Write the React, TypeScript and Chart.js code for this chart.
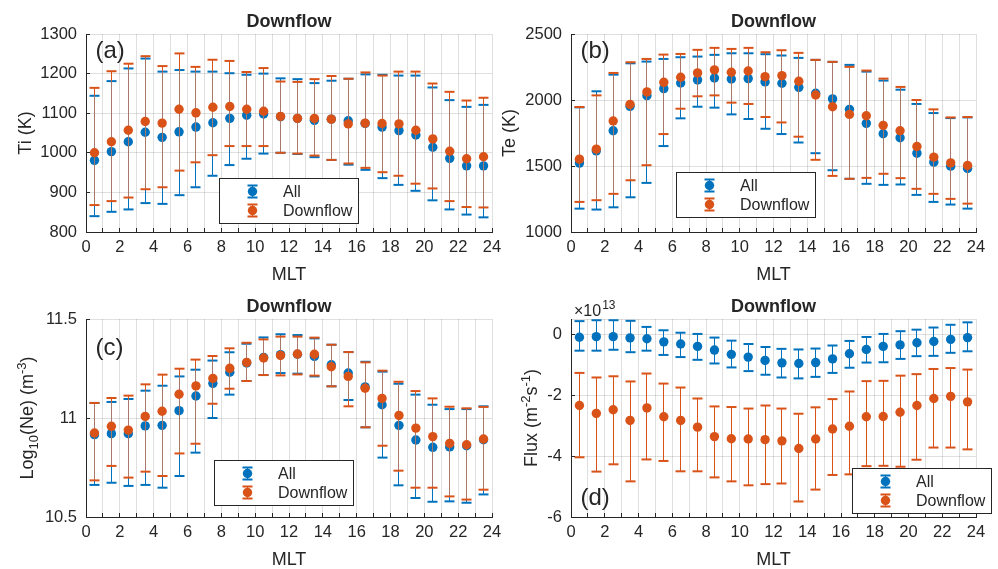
import React, { useEffect, useRef } from 'react';
import { Chart, registerables } from 'chart.js';

Chart.register(...registerables);

// ---------------- data ----------------
const mlt = [0.5, 1.5, 2.5, 3.5, 4.5, 5.5, 6.5, 7.5, 8.5, 9.5, 10.5, 11.5, 12.5, 13.5, 14.5, 15.5, 16.5, 17.5, 18.5, 19.5, 20.5, 21.5, 22.5, 23.5];

const xTickValues = [0, 1, 2, 3, 4, 5, 6, 7, 8, 9, 10, 11, 12, 13, 14, 15, 16, 17, 18, 19, 20, 21, 22, 23, 24];
const xLabelValues = [0, 2, 4, 6, 8, 10, 12, 14, 16, 18, 20, 22, 24];
const xLabelTexts = ['0', '2', '4', '6', '8', '10', '12', '14', '16', '18', '20', '22', '24'];

const seriesNames = ['All', 'Downflow'];

// (a) Ti (K)
const tiAll = [981, 1003, 1028, 1052, 1039, 1053, 1065, 1076, 1087, 1095, 1098, 1091, 1087, 1082, 1085, 1081, 1074, 1065, 1056, 1045, 1014, 986, 967, 967];
const tiAllHi = [1144, 1181, 1213, 1238, 1205, 1209, 1205, 1205, 1201, 1197, 1200, 1188, 1186, 1176, 1182, 1187, 1198, 1197, 1195, 1195, 1165, 1133, 1116, 1121];
const tiAllLo = [840, 851, 857, 873, 871, 893, 913, 942, 969, 985, 998, 1000, 997, 989, 982, 970, 957, 936, 919, 904, 880, 857, 844, 837];
const tiDown = [1000, 1028, 1057, 1079, 1075, 1110, 1101, 1115, 1117, 1110, 1105, 1092, 1087, 1087, 1085, 1073, 1075, 1074, 1073, 1057, 1035, 1004, 985, 990];
const tiDownHi = [1164, 1206, 1225, 1244, 1219, 1251, 1217, 1235, 1232, 1204, 1214, 1180, 1179, 1186, 1194, 1187, 1203, 1195, 1205, 1205, 1175, 1154, 1132, 1139];
const tiDownLo = [868, 878, 887, 908, 913, 955, 976, 994, 1017, 1017, 1017, 1000, 998, 993, 982, 973, 962, 951, 942, 922, 910, 878, 863, 862];
const tiTicks = [800, 900, 1000, 1100, 1200, 1300];
const tiTickLabels = ['800', '900', '1000', '1100', '1200', '1300'];

// (b) Te (K)
const teAll = [1522, 1615, 1767, 1952, 2033, 2086, 2129, 2152, 2167, 2159, 2162, 2137, 2127, 2096, 2051, 2008, 1929, 1823, 1744, 1714, 1597, 1529, 1499, 1481];
const teAllHi = [1944, 2066, 2192, 2278, 2291, 2311, 2324, 2329, 2342, 2354, 2354, 2347, 2337, 2319, 2304, 2289, 2266, 2215, 2147, 2078, 1970, 1901, 1863, 1868];
const teAllLo = [1177, 1170, 1187, 1263, 1372, 1651, 1861, 1949, 1942, 1891, 1856, 1782, 1742, 1678, 1597, 1468, 1403, 1365, 1357, 1360, 1281, 1228, 1208, 1177];
const teDown = [1552, 1628, 1841, 1967, 2061, 2134, 2172, 2205, 2228, 2210, 2220, 2177, 2185, 2142, 2038, 1949, 1891, 1881, 1808, 1767, 1648, 1567, 1524, 1504];
const teDownHi = [1947, 2035, 2205, 2286, 2311, 2344, 2349, 2380, 2395, 2387, 2395, 2362, 2377, 2357, 2304, 2289, 2251, 2223, 2162, 2099, 2000, 1929, 1868, 1871];
const teDownLo = [1228, 1241, 1289, 1392, 1506, 1742, 1934, 2028, 2035, 1980, 1970, 1871, 1830, 1722, 1547, 1425, 1403, 1410, 1441, 1408, 1327, 1289, 1251, 1215];
const teTicks = [1000, 1500, 2000, 2500];
const teTickLabels = ['1000', '1500', '2000', '2500'];

// (c) log10(Ne) (m^-3)
const neAll = [10.916, 10.921, 10.921, 10.96, 10.963, 11.037, 11.111, 11.175, 11.231, 11.278, 11.306, 11.32, 11.322, 11.311, 11.269, 11.227, 11.157, 11.067, 10.963, 10.889, 10.852, 10.854, 10.86, 10.89];
const neAllHi = [11.076, 11.081, 11.096, 11.138, 11.163, 11.21, 11.244, 11.29, 11.332, 11.375, 11.407, 11.423, 11.419, 11.402, 11.37, 11.333, 11.284, 11.234, 11.173, 11.118, 11.067, 11.045, 11.045, 11.059];
const neAllLo = [10.662, 10.673, 10.657, 10.662, 10.648, 10.707, 10.825, 11.0, 11.118, 11.187, 11.217, 11.227, 11.224, 11.21, 11.16, 11.091, 10.953, 10.8, 10.66, 10.596, 10.577, 10.579, 10.572, 10.614];
const neDown = [10.924, 10.958, 10.939, 11.008, 11.034, 11.12, 11.162, 11.2, 11.251, 11.281, 11.303, 11.316, 11.323, 11.322, 11.259, 11.21, 11.15, 11.099, 11.013, 10.949, 10.906, 10.872, 10.865, 10.894];
const neDownHi = [11.076, 11.101, 11.113, 11.17, 11.219, 11.249, 11.295, 11.313, 11.352, 11.38, 11.397, 11.411, 11.411, 11.406, 11.37, 11.333, 11.281, 11.239, 11.183, 11.136, 11.099, 11.057, 11.049, 11.056];
const neDownLo = [10.685, 10.758, 10.699, 10.729, 10.707, 10.821, 10.87, 11.072, 11.148, 11.187, 11.217, 11.215, 11.22, 11.214, 11.16, 11.059, 10.953, 10.86, 10.734, 10.648, 10.648, 10.604, 10.588, 10.638];
const neTicks = [10.5, 11, 11.5];
const neTickLabels = ['10.5', '11', '11.5'];

// (d) Flux (x 1e13 m^-2 s^-1)
const fluxAll = [-0.10, -0.08, -0.08, -0.12, -0.15, -0.25, -0.32, -0.40, -0.52, -0.66, -0.75, -0.86, -0.94, -0.96, -0.93, -0.81, -0.64, -0.50, -0.40, -0.35, -0.28, -0.24, -0.17, -0.11];
const fluxAllHi = [0.43, 0.46, 0.46, 0.44, 0.24, 0.13, 0.05, 0.01, -0.11, -0.21, -0.32, -0.42, -0.48, -0.50, -0.47, -0.37, -0.22, -0.09, 0.01, 0.10, 0.15, 0.22, 0.31, 0.39];
const fluxAllLo = [-0.54, -0.54, -0.51, -0.59, -0.54, -0.68, -0.75, -0.84, -0.96, -1.09, -1.21, -1.33, -1.42, -1.45, -1.40, -1.27, -1.10, -0.93, -0.92, -0.81, -0.72, -0.71, -0.61, -0.56];
const fluxDown = [-2.34, -2.60, -2.48, -2.83, -2.42, -2.71, -2.83, -3.05, -3.36, -3.43, -3.44, -3.46, -3.50, -3.75, -3.44, -3.11, -3.02, -2.71, -2.70, -2.56, -2.34, -2.11, -2.04, -2.22];
const fluxDownHi = [-1.27, -1.42, -1.38, -1.55, -1.29, -1.62, -1.75, -2.11, -2.37, -2.39, -2.44, -2.34, -2.44, -2.61, -2.40, -2.13, -1.88, -1.54, -1.53, -1.36, -1.31, -1.14, -1.11, -1.16];
const fluxDownLo = [-4.04, -4.51, -4.27, -4.83, -4.11, -4.16, -4.50, -4.50, -4.70, -4.83, -4.96, -4.92, -4.90, -5.49, -5.10, -4.62, -4.60, -4.33, -4.32, -4.35, -4.12, -3.72, -3.72, -3.78];
const fluxTicks = [-6, -4, -2, 0];
const fluxTickLabels = ['-6', '-4', '-2', '0'];

// ---------------- styles ----------------
const W = 998;
const H = 569;
const FONT = '"Liberation Sans", Arial, Helvetica, sans-serif';
const INK = '#262626';
const BLUE = '#0072BD';
const ORANGE = '#D95319';
const OVERLAP = '#a8786a';
const GRID = 'rgba(38,38,38,0.15)';
const YW = 60;
const XH = 40;

type Part = { t: string; k?: 'sup' | 'sub' };

interface Panel {
  area: [number, number, number, number];
  yMin: number;
  yMax: number;
  yTicks: number[];
  yTickLabels: string[];
  all: number[]; allHi: number[]; allLo: number[];
  down: number[]; downHi: number[]; downLo: number[];
  yTitle: Part[];
  yTitleX: number;
  tag: string;
  tagY: number;
  legend: [number, number];
  exponent?: boolean;
}

const panels: Panel[] = [
  {
    area: [86, 34, 492, 232], yMin: 800, yMax: 1300, yTicks: tiTicks, yTickLabels: tiTickLabels,
    all: tiAll, allHi: tiAllHi, allLo: tiAllLo, down: tiDown, downHi: tiDownHi, downLo: tiDownLo,
    yTitle: [{ t: 'Ti (K)' }], yTitleX: 24.5, tag: '(a)', tagY: 58, legend: [219, 178],
  },
  {
    area: [571, 34, 976, 232], yMin: 1000, yMax: 2500, yTicks: teTicks, yTickLabels: teTickLabels,
    all: teAll, allHi: teAllHi, allLo: teAllLo, down: teDown, downHi: teDownHi, downLo: teDownLo,
    yTitle: [{ t: 'Te (K)' }], yTitleX: 508.5, tag: '(b)', tagY: 58, legend: [676, 172],
  },
  {
    area: [86, 319, 492, 517], yMin: 10.5, yMax: 11.5, yTicks: neTicks, yTickLabels: neTickLabels,
    all: neAll, allHi: neAllHi, allLo: neAllLo, down: neDown, downHi: neDownHi, downLo: neDownLo,
    yTitle: [{ t: 'Log' }, { t: '10', k: 'sub' }, { t: '(Ne) (m' }, { t: '-3', k: 'sup' }, { t: ')' }],
    yTitleX: 27, tag: '(c)', tagY: 355, legend: [214, 460],
  },
  {
    area: [571, 319, 976, 517], yMin: -6, yMax: 0.5, yTicks: fluxTicks, yTickLabels: fluxTickLabels,
    all: fluxAll, allHi: fluxAllHi, allLo: fluxAllLo, down: fluxDown, downHi: fluxDownHi, downLo: fluxDownLo,
    yTitle: [{ t: 'Flux (m' }, { t: '-2', k: 'sup' }, { t: 's' }, { t: '-1', k: 'sup' }, { t: ')' }],
    yTitleX: 531, tag: '(d)', tagY: 505, legend: [852, 468], exponent: true,
  },
];

function alignPx(p: number) {
  return Math.round(p - 0.5) + 0.5;
}

function drawRich(ctx: CanvasRenderingContext2D, parts: Part[], x: number, y: number, size: number, rotate: boolean) {
  ctx.save();
  ctx.translate(x, y);
  if (rotate) ctx.rotate(-Math.PI / 2);
  const small = size * 0.72;
  let total = 0;
  const widths = parts.map((p) => {
    ctx.font = `${p.k ? small : size}px ${FONT}`;
    const w = ctx.measureText(p.t).width;
    total += w;
    return w;
  });
  let cx = -total / 2;
  const base = size * 0.36;
  ctx.fillStyle = INK;
  ctx.textAlign = 'left';
  ctx.textBaseline = 'alphabetic';
  parts.forEach((p, i) => {
    ctx.font = `${p.k ? small : size}px ${FONT}`;
    let dy = base;
    if (p.k === 'sup') dy = base - size * 0.4;
    if (p.k === 'sub') dy = base + size * 0.25;
    ctx.fillText(p.t, cx, dy);
    cx += widths[i];
  });
  ctx.restore();
}

function makeChart(canvas: HTMLCanvasElement, p: Panel) {
  const [L, T, R, B] = p.area;

  const errorBars = {
    id: 'errorBars',
    beforeDatasetDraw(chart: any, args: any) {
      const ctx: CanvasRenderingContext2D = chart.ctx;
      const xs = chart.scales.x;
      const ys = chart.scales.y;
      const isDown = args.index === 1;
      const his = isDown ? p.downHi : p.allHi;
      const los = isDown ? p.downLo : p.allLo;
      const color = isDown ? ORANGE : BLUE;
      ctx.save();
      for (let j = 0; j < mlt.length; j++) {
        const px = alignPx(xs.getPixelForValue(mlt[j]));
        const hi = his[j];
        const lo = los[j];
        const seg = (a: number, b: number, c: string) => {
          ctx.strokeStyle = c;
          ctx.lineWidth = 1;
          ctx.beginPath();
          ctx.moveTo(px, ys.getPixelForValue(a));
          ctx.lineTo(px, ys.getPixelForValue(b));
          ctx.stroke();
        };
        if (isDown) {
          const oHi = Math.min(hi, p.allHi[j]);
          const oLo = Math.max(lo, p.allLo[j]);
          if (oHi > oLo) {
            if (hi > oHi) seg(hi, oHi, ORANGE);
            seg(oHi, oLo, OVERLAP);
            if (oLo > lo) seg(oLo, lo, ORANGE);
          } else {
            seg(hi, lo, ORANGE);
          }
        } else {
          seg(hi, lo, BLUE);
        }
        ctx.strokeStyle = color;
        ctx.lineWidth = 2;
        for (const v of [hi, lo]) {
          const yy = ys.getPixelForValue(v);
          ctx.beginPath();
          ctx.moveTo(px - 5, yy);
          ctx.lineTo(px + 5, yy);
          ctx.stroke();
        }
      }
      ctx.restore();
    },
  };

  const decor = {
    id: 'decor',
    afterDraw(chart: any) {
      const ctx: CanvasRenderingContext2D = chart.ctx;
      const xs = chart.scales.x;
      const ys = chart.scales.y;
      const ca = chart.chartArea;
      ctx.save();
      // inward tick marks
      ctx.strokeStyle = INK;
      ctx.lineWidth = 1;
      ctx.beginPath();
      for (const v of xTickValues) {
        const px = alignPx(xs.getPixelForValue(v));
        ctx.moveTo(px, ca.bottom);
        ctx.lineTo(px, ca.bottom - 4);
      }
      for (const v of p.yTicks) {
        const py = alignPx(ys.getPixelForValue(v));
        ctx.moveTo(ca.left, py);
        ctx.lineTo(ca.left + 4, py);
      }
      ctx.stroke();

      // title
      ctx.fillStyle = INK;
      ctx.textAlign = 'center';
      ctx.textBaseline = 'alphabetic';
      ctx.font = `bold 18px ${FONT}`;
      ctx.fillText('Downflow', (ca.left + ca.right) / 2, ca.top - 7);

      // x title
      ctx.font = `18px ${FONT}`;
      ctx.fillText('MLT', (ca.left + ca.right) / 2, ca.bottom + 48);

      // y title
      drawRich(ctx, p.yTitle, p.yTitleX, (ca.top + ca.bottom) / 2, 18, true);

      // panel tag
      ctx.textAlign = 'left';
      ctx.font = `24px ${FONT}`;
      ctx.fillText(p.tag, ca.left + 9.5, p.tagY);

      // exponent
      if (p.exponent) {
        ctx.font = `16px ${FONT}`;
        ctx.fillText('\u00d710', ca.left + 3, ca.top - 3);
        const w = ctx.measureText('\u00d710').width;
        ctx.font = `12px ${FONT}`;
        ctx.fillText('13', ca.left + 3 + w + 1, ca.top - 10);
      }

      // legend
      const [lx, ly] = p.legend;
      const lw = 139;
      const lh = 45;
      ctx.fillStyle = '#ffffff';
      ctx.fillRect(lx, ly, lw, lh);
      ctx.strokeStyle = INK;
      ctx.lineWidth = 1;
      ctx.strokeRect(lx + 0.5, ly + 0.5, lw, lh);
      const colors = [BLUE, ORANGE];
      chart.data.datasets.forEach((ds: any, r: number) => {
        const cy = ly + 13.5 + r * 19;
        const sx = lx + 33.5;
        ctx.strokeStyle = colors[r];
        ctx.lineWidth = 1;
        ctx.beginPath();
        ctx.moveTo(sx, cy - 6);
        ctx.lineTo(sx, cy + 6);
        ctx.stroke();
        ctx.lineWidth = 2;
        ctx.beginPath();
        ctx.moveTo(sx - 5, cy - 6);
        ctx.lineTo(sx + 5, cy - 6);
        ctx.moveTo(sx - 5, cy + 6);
        ctx.lineTo(sx + 5, cy + 6);
        ctx.stroke();
        ctx.fillStyle = colors[r];
        ctx.beginPath();
        ctx.arc(sx, cy, 4.7, 0, Math.PI * 2);
        ctx.fill();
        ctx.fillStyle = INK;
        ctx.font = `16px ${FONT}`;
        ctx.textAlign = 'left';
        ctx.textBaseline = 'middle';
        ctx.fillText(ds.label, lx + 64, cy + 1);
      });
      ctx.restore();
    },
  };

  const yGridValues = p.yTicks.indexOf(p.yMax) >= 0 ? p.yTicks : [...p.yTicks, p.yMax];

  return new Chart(canvas, {
    type: 'scatter',
    data: {
      datasets: [
        {
          label: seriesNames[0],
          data: mlt.map((x, j) => ({ x, y: p.all[j] })),
          backgroundColor: BLUE,
          borderColor: BLUE,
          pointBackgroundColor: BLUE,
          pointRadius: 4.7,
          pointBorderWidth: 0,
          borderWidth: 0,
          order: 2,
        },
        {
          label: seriesNames[1],
          data: mlt.map((x, j) => ({ x, y: p.down[j] })),
          backgroundColor: ORANGE,
          borderColor: ORANGE,
          pointBackgroundColor: ORANGE,
          pointRadius: 4.7,
          pointBorderWidth: 0,
          borderWidth: 0,
          order: 1,
        },
      ],
    },
    options: {
      responsive: false,
      animation: false,
      devicePixelRatio: 1,
      events: [],
      layout: { padding: { left: L - YW, top: T, right: W - R, bottom: H - B - XH } },
      plugins: { legend: { display: false }, tooltip: { enabled: false }, title: { display: false } },
      scales: {
        x: {
          type: 'linear',
          min: 0,
          max: 24,
          afterBuildTicks: (s: any) => {
            s.ticks = xTickValues.map((v) => ({ value: v }));
          },
          afterFit: (s: any) => {
            s.height = XH;
          },
          grid: { color: GRID, lineWidth: 1, drawTicks: false },
          border: { display: true, color: INK, width: 1 },
          ticks: {
            autoSkip: false,
            maxRotation: 0,
            minRotation: 0,
            padding: 6,
            color: INK,
            font: { family: FONT, size: 16.5 },
            callback: (v: any) => {
              const i = xLabelValues.indexOf(Number(v));
              return i >= 0 ? xLabelTexts[i] : '';
            },
          },
        },
        y: {
          type: 'linear',
          min: p.yMin,
          max: p.yMax,
          afterBuildTicks: (s: any) => {
            s.ticks = yGridValues.map((v) => ({ value: v }));
          },
          afterFit: (s: any) => {
            s.width = YW;
          },
          grid: { color: GRID, lineWidth: 1, drawTicks: false },
          border: { display: true, color: INK, width: 1 },
          ticks: {
            autoSkip: false,
            padding: 9,
            color: INK,
            font: { family: FONT, size: 16.5 },
            callback: (v: any) => {
              const i = p.yTicks.indexOf(Number(v));
              return i >= 0 ? p.yTickLabels[i] : '';
            },
          },
        },
      },
    } as any,
    plugins: [errorBars, decor],
  } as any);
}

export default function App() {
  const refs = useRef<(HTMLCanvasElement | null)[]>([]);
  useEffect(() => {
    const charts = panels.map((p, i) => makeChart(refs.current[i] as HTMLCanvasElement, p));
    return () => charts.forEach((c) => c.destroy());
  }, []);
  return (
    <div style={{ position: 'absolute', left: 0, top: 0, width: W, height: H, background: '#ffffff' }}>
      {panels.map((_, i) => (
        <canvas
          key={i}
          ref={(el) => {
            refs.current[i] = el;
          }}
          width={W}
          height={H}
          style={{ position: 'absolute', left: 0, top: 0, width: W, height: H }}
        />
      ))}
    </div>
  );
}
